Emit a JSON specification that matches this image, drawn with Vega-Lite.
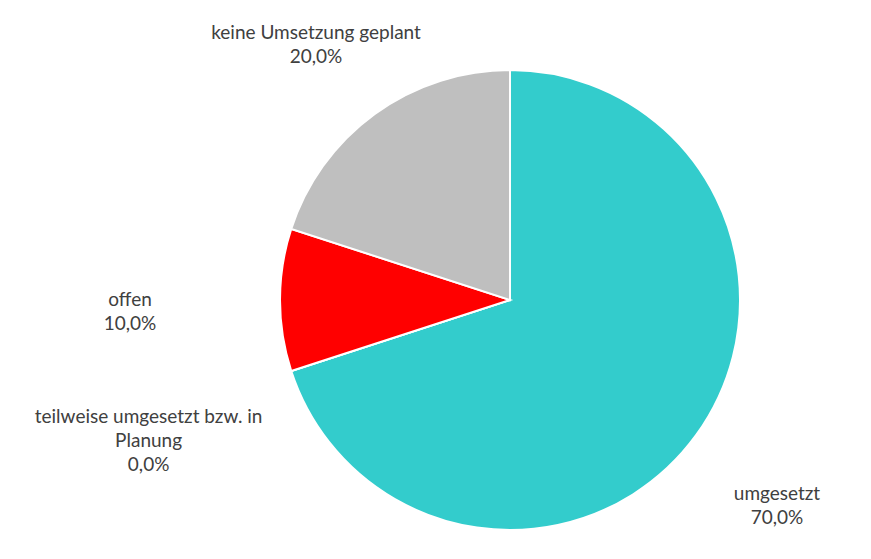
{
  "$schema": "https://vega.github.io/schema/vega-lite/v6.json",
  "width": 722,
  "height": 518,
  "autosize": {"type": "none"},
  "padding": {"left": 149, "top": 41, "right": 0, "bottom": 0},
  "background": "white",
  "config": {
    "view": {"stroke": null},
    "locale": {"number": {"decimal": ",", "thousands": ".", "grouping": [3], "currency": ["", " €"]}}
  },
  "data": {
    "values": [
      {"kategorie": "umgesetzt", "anteil": 0.7, "reihenfolge": 1},
      {"kategorie": "teilweise umgesetzt bzw. in\nPlanung", "anteil": 0.0, "reihenfolge": 2},
      {"kategorie": "offen", "anteil": 0.1, "reihenfolge": 3},
      {"kategorie": "keine Umsetzung geplant", "anteil": 0.2, "reihenfolge": 4}
    ]
  },
  "transform": [
    {"calculate": "datum.kategorie + '\\n' + format(datum.anteil, '.1%')", "as": "beschriftung"}
  ],
  "encoding": {
    "theta": {"field": "anteil", "type": "quantitative", "stack": true},
    "order": {"field": "reihenfolge", "type": "quantitative"}
  },
  "layer": [
    {
      "mark": {"type": "arc", "outerRadius": 230, "stroke": "white", "strokeWidth": 2},
      "encoding": {
        "color": {
          "field": "kategorie",
          "type": "nominal",
          "scale": {
            "domain": ["umgesetzt", "teilweise umgesetzt bzw. in\nPlanung", "offen", "keine Umsetzung geplant"],
            "range": ["#33CCCC", "#FFC000", "#FF0000", "#BFBFBF"]
          },
          "legend": null
        }
      }
    },
    {
      "mark": {"type": "text", "radius": 330, "baseline": "middle", "align": "center", "lineBreak": "\n", "lineHeight": 24, "font": "Lato", "fontSize": 19, "color": "#404040"},
      "encoding": {
        "text": {"field": "beschriftung", "type": "nominal"},
        "opacity": {"condition": {"test": "datum.reihenfolge === 4 || datum.reihenfolge === 1", "value": 1}, "value": 0}
      }
    },
    {
      "mark": {"type": "text", "radius": 380, "baseline": "middle", "align": "center", "lineBreak": "\n", "lineHeight": 24, "font": "Lato", "fontSize": 19, "color": "#404040"},
      "encoding": {
        "text": {"field": "beschriftung", "type": "nominal"},
        "opacity": {"condition": {"test": "datum.reihenfolge === 2 || datum.reihenfolge === 3", "value": 1}, "value": 0}
      }
    }
  ]
}
